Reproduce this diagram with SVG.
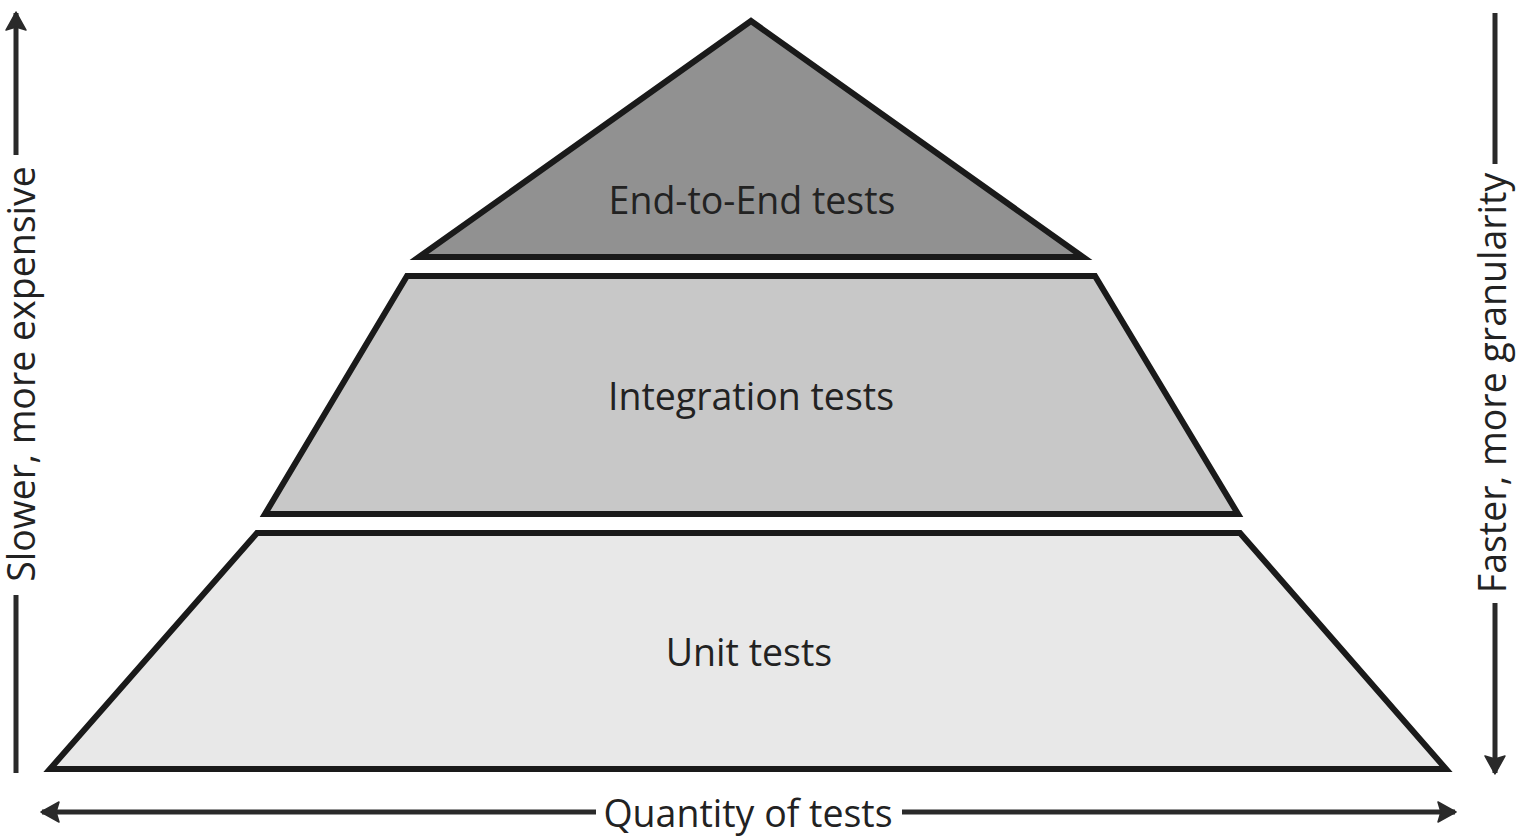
<svg xmlns="http://www.w3.org/2000/svg" width="1524" height="838" viewBox="0 0 1524 838">
<style>
.tier{stroke:#1a1a1a;stroke-width:6;stroke-linejoin:miter;stroke-miterlimit:12}
.lbl{font-family:"Open Sans","Noto Sans","Liberation Sans",sans-serif;font-size:37.5px;fill:#222;text-anchor:middle}
.axis{stroke:#2a2a2a;stroke-width:5;fill:none}
</style>
<defs>
<marker id="ah" viewBox="0 0 20 22" refX="18" refY="11" markerWidth="20" markerHeight="22" markerUnits="userSpaceOnUse" orient="auto">
<path d="M1,1 L19,11 L1,21 L4,11 Z" fill="#2a2a2a" stroke="#2a2a2a" stroke-width="1.5" stroke-linejoin="round"/>
</marker>
</defs>
<rect width="1524" height="838" fill="#fff"/>
<g id="unit">
<polygon class="tier" fill="#e8e8e8" points="50,769 257,533 1240,533 1446,769"/>
<text class="lbl" x="749" y="666">Unit tests</text>
</g>
<g id="integration">
<polygon class="tier" fill="#c8c8c8" points="265,514 407,276 1095,276 1238,514"/>
<text class="lbl" x="751" y="410">Integration tests</text>
</g>
<g id="e2e">
<polygon class="tier" fill="#919191" points="419,257 751,21 1083,257"/>
<text class="lbl" x="752" y="214">End-to-End tests</text>
</g>
<g id="connectors">
<line class="axis" x1="16" y1="773" x2="16" y2="595"/>
<line class="axis" x1="16" y1="155" x2="16" y2="13" marker-end="url(#ah)"/>
<text class="lbl" transform="translate(35,374) rotate(-90)">Slower, more expensive</text>
<line class="axis" x1="1495" y1="13" x2="1495" y2="164"/>
<line class="axis" x1="1495" y1="603" x2="1495" y2="773" marker-end="url(#ah)"/>
<text class="lbl" transform="translate(1506,383) rotate(-90)">Faster, more granularity</text>
<line class="axis" x1="596" y1="812" x2="42" y2="812" marker-end="url(#ah)"/>
<line class="axis" x1="902" y1="812" x2="1455" y2="812" marker-end="url(#ah)"/>
<text class="lbl" x="748" y="827">Quantity of tests</text>
</g>
</svg>
